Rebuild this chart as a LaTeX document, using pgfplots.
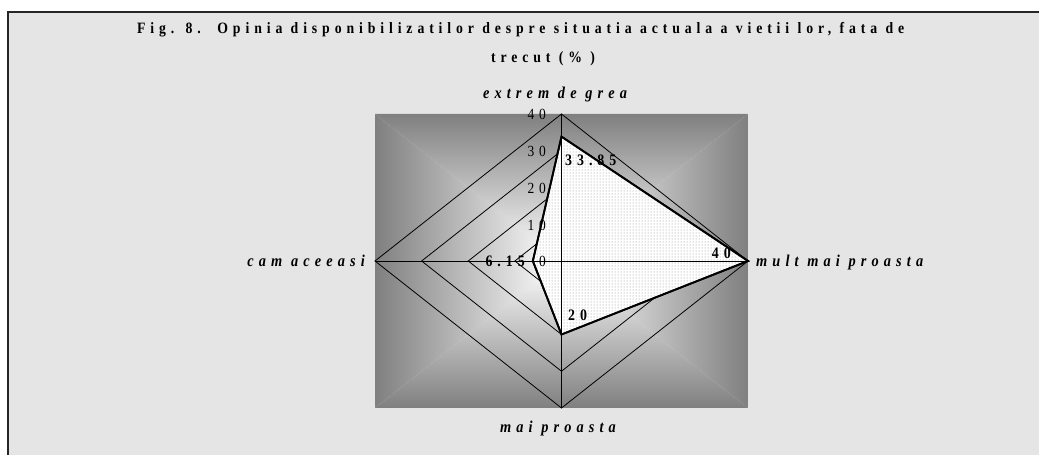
\documentclass[border=0pt]{standalone}
\usepackage{fontspec}
\setmainfont{Liberation Serif}
\usepackage{pgfplots}
\pgfplotsset{compat=1.18}
\usetikzlibrary{patterns}
\newfontfamily\spaced[LetterSpace=31,FakeStretch=0.87]{Liberation Serif}

\begin{document}
\begin{tikzpicture}[every node/.style={inner sep=0pt}]
\path[use as bounding box] (0pt,0pt) rectangle (1039pt,455pt);
\fill[white] (0pt,0pt) rectangle (1039pt,455pt);
\fill[black!10] (8pt,0pt) rectangle (1039pt,443pt);
\draw[black!85,line width=1.3pt] (8pt,0pt) -- (8pt,443pt) -- (1039pt,443pt);

% gradient panel behind the radar (from centre)
\shade[top color=black!50,bottom color=white] (375pt,341pt) -- (748pt,341pt) -- (561.5pt,194pt) -- cycle;
\shade[bottom color=black!50,top color=white] (375pt,47pt) -- (748pt,47pt) -- (561.5pt,194pt) -- cycle;
\shade[left color=black!50,right color=white] (375pt,341pt) -- (375pt,47pt) -- (561.5pt,194pt) -- cycle;
\shade[right color=black!50,left color=white] (748pt,341pt) -- (748pt,47pt) -- (561.5pt,194pt) -- cycle;

\begin{axis}[at={(375pt,47pt)},anchor=south west,scale only axis,
  width=373pt,height=294pt,xmin=-40,xmax=40,ymin=-40,ymax=40,
  hide axis,clip=false]
% grid rings
\addplot[black,line width=0.8pt] coordinates {(0,10)(10,0)(0,-10)(-10,0)} -- cycle;
\addplot[black,line width=0.8pt] coordinates {(0,20)(20,0)(0,-20)(-20,0)} -- cycle;
\addplot[black,line width=0.8pt] coordinates {(0,30)(30,0)(0,-30)(-30,0)} -- cycle;
\addplot[black,line width=0.8pt] coordinates {(0,40)(40,0)(0,-40)(-40,0)} -- cycle;
% series: extrem de grea, mult mai proasta, mai proasta, cam aceeasi
\addplot[draw=black,line width=1.8pt,fill=white,
  postaction={pattern=dots,pattern color=black!45}]
  coordinates {(0,33.85)(40,0)(0,-20)(-6.15,0)} -- cycle;
% spokes
\addplot[black,line width=0.8pt] coordinates {(-40,0)(40,0)};
\addplot[black,line width=0.8pt] coordinates {(0,-40)(0,40)};
\end{axis}

% title
\node[anchor=base west,font=\spaced\bfseries\fontsize{15.8pt}{19pt}\selectfont] at (137pt,421pt)
  {Fig. 8.\ \ Opinia disponibilizatilor despre situatia actuala a vietii lor, fata de};
\node[anchor=base,font=\spaced\bfseries\fontsize{15.8pt}{19pt}\selectfont] at (543pt,392pt)
  {trecut (\% )};

% category labels
\begin{scope}[every node/.append style={font=\spaced\bfseries\itshape\fontsize{16.5pt}{19pt}\selectfont}]
\node[anchor=base] at (555pt,356.7pt) {extrem de grea};
\node[anchor=base east] at (365pt,188.3pt) {cam aceeasi};
\node[anchor=base west] at (756pt,188.3pt) {mult mai proasta};
\node[anchor=base] at (558pt,22pt) {mai proasta};
\end{scope}

% ring values
\begin{scope}[every node/.append style={anchor=east,font=\spaced\fontsize{15.5pt}{18pt}\selectfont}]
\node at (546pt,193.3pt) {0};
\node at (546pt,230pt) {10};
\node at (546pt,266.8pt) {20};
\node at (546pt,303.5pt) {30};
\node at (546pt,340.3pt) {40};
\end{scope}

% data labels
\begin{scope}[every node/.append style={font=\spaced\bfseries\fontsize{16pt}{19pt}\selectfont}]
\node[anchor=west] at (565pt,295pt) {33.85};
\node[anchor=base east] at (731pt,196.7pt) {40};
\node[anchor=base west] at (568pt,134pt) {20};
\node[anchor=east] at (525pt,194pt) {6.15};
\end{scope}
\end{tikzpicture}
\end{document}
